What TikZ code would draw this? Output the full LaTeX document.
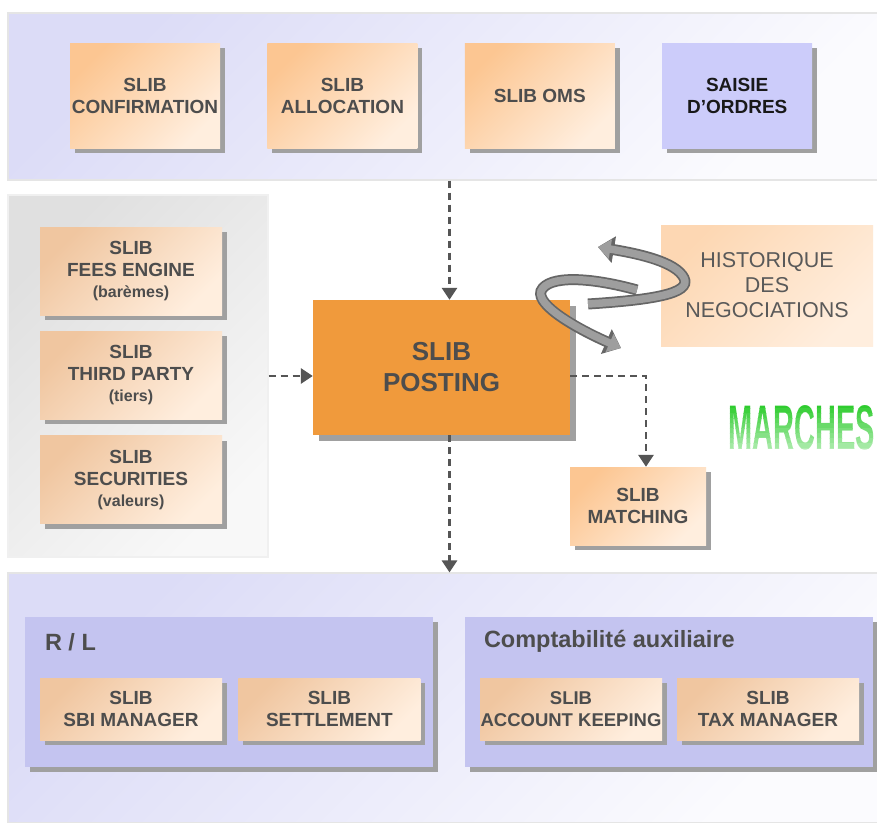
\documentclass[tikz,border=0pt]{standalone}
\usepackage{fontspec}
\setmainfont{Liberation Sans}
\usepackage{graphicx}
\usetikzlibrary{positioning,shadows,arrows.meta}
\definecolor{bandlight}{HTML}{FBFBFE}
\definecolor{banddark}{HTML}{DCDCF7}
\definecolor{greylight}{HTML}{F8F8F8}
\definecolor{greydark}{HTML}{E0E0E0}
\definecolor{peach}{HTML}{FCC692}
\definecolor{tan}{HTML}{F0C6A0}
\definecolor{cream}{HTML}{FFEEDE}
\definecolor{lavender}{HTML}{C4C4F0}
\definecolor{saisie}{HTML}{CCCCFA}
\definecolor{postorange}{HTML}{F09A3C}
\definecolor{shadowgray}{HTML}{A0A0A0}
\definecolor{textgray}{HTML}{4D4D4D}
\definecolor{arrowgray}{HTML}{555555}
\definecolor{marchesgreen}{HTML}{2FCC2F}

\begin{document}
\begin{tikzpicture}[x=1pt, y=-1pt,
    band/.style={draw=black!10, line width=1.2pt, inner sep=0pt, shade, top color=banddark, bottom color=bandlight, shading angle=45},
    slib/.style={inner sep=0pt, align=center, text=textgray, font=\bfseries\fontsize{19}{22}\selectfont,
        shade, top color=peach, bottom color=cream, shading angle=45,
        drop shadow={shadow xshift=5pt, shadow yshift=-5pt, fill=shadowgray, opacity=1}},
    tanbox/.style={slib, top color=tan, bottom color=cream, shading angle=45},
    panel/.style={inner sep=0pt, fill=lavender, drop shadow={shadow xshift=5pt, shadow yshift=-5pt, fill=shadowgray, opacity=1}},
    title/.style={anchor=west, inner sep=0pt, text=textgray, font=\bfseries\fontsize{23.5}{26}\selectfont},
    flow/.style={draw=arrowgray, line width=2.8pt, dash pattern=on 7pt off 5pt, -{Triangle[length=12pt,width=15pt]}},
    ribbon/.style={draw=black!60, line width=11pt, -{Triangle[length=16pt,width=26pt]}},
    ribboncore/.style={draw=black!38, line width=7.5pt, -{Triangle[length=12.5pt,width=19pt]}}
]
\fill[white] (0,0) rectangle (877,822);
\useasboundingbox (0,0) rectangle (877,822);

% Bands
\node (topband) [band, minimum width=871pt, minimum height=167pt] at (443.5,96.5) {};
\node (bottomband) [band, minimum width=871pt, minimum height=250pt] at (443.5,698) {};
\node (sidepanel) [band, top color=greydark, bottom color=greylight, shading angle=45, draw=black!6, minimum width=260pt, minimum height=362pt] at (138,376) {};

% Top row
\node (confirmation) [slib, minimum width=150pt, minimum height=105pt] at (145,95.5) {SLIB\\CONFIRMATION};
\node (allocation) [slib, right=47pt of confirmation, minimum width=150pt, minimum height=105pt] {SLIB\\ALLOCATION};
\node (oms) [slib, right=47pt of allocation, minimum width=150pt, minimum height=105pt] {SLIB OMS};
\node (ordres) [slib, right=47pt of oms, top color=saisie, bottom color=saisie, text=black!90, minimum width=150pt, minimum height=105pt] {SAISIE\\D’ORDRES};

% Left column
\node (fees) [tanbox, minimum width=182pt, minimum height=88pt] at (131,271) {SLIB\\FEES ENGINE\\[-1pt]{\fontsize{16}{18}\selectfont(barèmes)}};
\node (thirdparty) [tanbox, below=16pt of fees, minimum width=182pt, minimum height=88pt] {SLIB\\THIRD PARTY\\[-1pt]{\fontsize{16}{18}\selectfont(tiers)}};
\node (securities) [tanbox, below=16pt of thirdparty, minimum width=182pt, minimum height=88pt] {SLIB\\SECURITIES\\[-1pt]{\fontsize{16}{18}\selectfont(valeurs)}};

% Centre
\node (posting) [inner sep=0pt, align=center, fill=postorange, text=textgray, font=\bfseries\fontsize{26}{31}\selectfont,
    drop shadow={shadow xshift=6pt, shadow yshift=-6pt, fill=shadowgray, opacity=1},
    minimum width=257pt, minimum height=135pt] at (441.5,367.5) {SLIB\\POSTING};
\node (historique) [inner sep=0pt, align=center, shade, top color=peach!70!white, bottom color=cream, shading angle=45,
    text=black!65, font=\fontsize{21.5}{25}\selectfont, minimum width=212pt, minimum height=121pt] at (767,285.5) {HISTORIQUE\\DES\\NEGOCIATIONS};
\node (matching) [slib, minimum width=136pt, minimum height=78pt] at (638,506) {SLIB\\MATCHING};

% MARCHES
\coordinate (marches) at (802,428);
\foreach \k in {0,...,9} {
    \pgfmathtruncatemacro\mix{100-\k*7}
    \begin{scope}
        \clip (700,{403+\k*5}) rectangle (877,{403+(\k+1)*5+0.6});
        \node (marches\k) [inner sep=0pt, text=marchesgreen!\mix!white, font=\bfseries\fontsize{63}{63}\selectfont] at (marches) {\scalebox{0.46}[1]{MARCHES}};
    \end{scope}
}

% Bottom panels
\node (rl) [panel, minimum width=408pt, minimum height=150pt] at (229,692) {};
\node (compta) [panel, minimum width=408pt, minimum height=150pt] at (669,692) {};
\node (rltitle) [title] at ([shift={(20,25)}]rl.north west) {R / L};
\node (comptatitle) [title] at ([shift={(19,25)}]compta.north west) {Comptabilité auxiliaire};
\node (sbi) [tanbox, minimum width=182pt, minimum height=62pt] at (131,709) {SLIB\\SBI MANAGER};
\node (settlement) [tanbox, right=16pt of sbi, minimum width=182pt, minimum height=62pt] {SLIB\\SETTLEMENT};
\node (keeping) [tanbox, font=\bfseries\fontsize{18.5}{22}\selectfont, minimum width=182pt, minimum height=62pt] at (571,709) {SLIB\\ACCOUNT KEEPING};
\node (tax) [tanbox, minimum width=182pt, minimum height=62pt] at (768,709) {SLIB\\TAX MANAGER};

% Arrows
\coordinate (intop) at ([xshift=8pt]posting.north);
\coordinate (inleft) at ([yshift=-8.5pt]posting.west);
\coordinate (outright) at ([yshift=-8.5pt]posting.east);
\coordinate (outdown) at ([xshift=8pt]posting.south);
\coordinate (matchin) at ([xshift=8pt]matching.north);
\draw[flow] (intop |- topband.south) -- (intop);
\draw[flow] (inleft -| sidepanel.east) -- (inleft);
\draw[flow] (outright) -| (matchin);
\draw[flow] (outdown) -- (outdown |- bottomband.north);

% Ribbon loop
\draw[ribbon] (588,304) .. controls (650,300) and (692,294) .. (684,278) .. controls (676,262) and (640,254) .. (598,247);
\draw[ribboncore] (588,304) .. controls (650,300) and (692,294) .. (684,278) .. controls (676,262) and (640,254) .. (598,247);
\draw[ribbon] (637,290) .. controls (590,277) and (548,275) .. (541,291) .. controls (536,306) and (580,330) .. (621,348);
\draw[ribboncore] (637,290) .. controls (590,277) and (548,275) .. (541,291) .. controls (536,306) and (580,330) .. (621,348);

\end{tikzpicture}
\end{document}
